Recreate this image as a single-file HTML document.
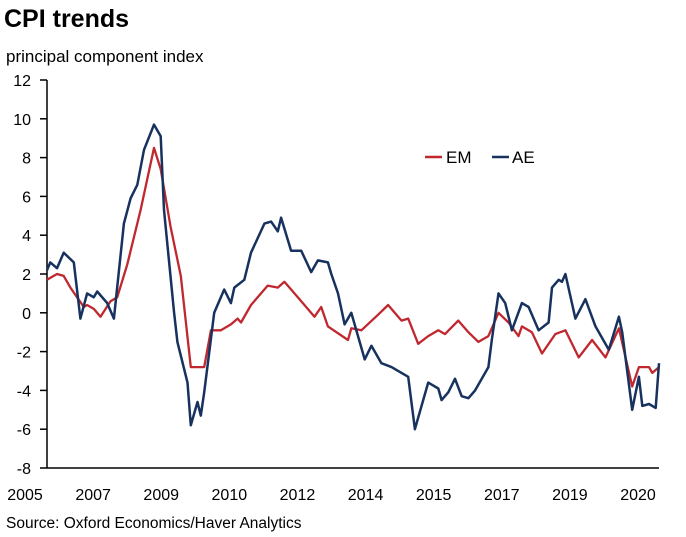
<!DOCTYPE html>
<html><head><meta charset="utf-8"><style>
html,body{margin:0;padding:0;background:#fff;}
body{width:686px;height:532px;overflow:hidden;font-family:"Liberation Sans",Arial,sans-serif;}
</style></head><body>
<svg id="chart" width="686" height="532" xmlns="http://www.w3.org/2000/svg" font-family="Liberation Sans, Arial, sans-serif">
<text x="4" y="27" font-size="25" font-weight="bold" fill="#000">CPI trends</text>
<text x="6" y="62" font-size="17" fill="#000">principal component index</text>
<g id="axes"></g>
<g id="series"></g>
<g>
<line x1="425" y1="157" x2="442" y2="157" stroke="#c0282f" stroke-width="2.5"/>
<text x="446" y="163" font-size="17">EM</text>
<line x1="492" y1="157" x2="509" y2="157" stroke="#17325e" stroke-width="2.5"/>
<text x="512" y="163" font-size="17">AE</text>
</g>
<text x="6" y="528" font-size="15.5">Source: Oxford Economics/Haver Analytics</text>
</svg>
<script>
const yTicks = [12,10,8,6,4,2,0,-2,-4,-6,-8];
const xTickLabels = ["2005","2007","2009","2010","2012","2014","2015","2017","2019","2020"];
const aeMonths = [0,1,3,5,8,10,12,14,15,18,20,23,25,27,29,32,34,35,38,39,42,43,45,46,47,50,53,55,56,59,61,65,67,69,70,73,76,79,81,84,85,87,89,91,95,97,100,103,108,110,114,117,118,120,122,124,126,128,132,133,135,137,139,142,144,147,150,151,153,154,155,158,161,164,168,171,172,175,177,178,180,182,183];
const aeValues = [2.2,2.6,2.3,3.1,2.6,-0.3,1.0,0.8,1.1,0.5,-0.3,4.6,5.9,6.6,8.4,9.7,9.1,5.3,0,-1.5,-3.6,-5.8,-4.6,-5.3,-4.1,0,1.2,0.5,1.3,1.7,3.1,4.6,4.7,4.2,4.9,3.2,3.2,2.1,2.7,2.6,2.0,1.0,-0.6,0,-2.4,-1.7,-2.6,-2.8,-3.3,-6.0,-3.6,-3.9,-4.5,-4.1,-3.4,-4.3,-4.4,-4.0,-2.8,-1.4,1.0,0.5,-0.9,0.5,0.3,-0.9,-0.5,1.3,1.7,1.6,2.0,-0.3,0.7,-0.7,-1.9,-0.2,-1.0,-5.0,-3.3,-4.8,-4.7,-4.9,-2.6];
const emMonths = [0,3,5,7,9,11,12,14,16,19,21,24,28,32,34,37,40,43,47,49,52,55,57,58,61,64,66,69,71,75,80,82,84,90,91,94,99,102,106,108,111,114,117,119,123,126,129,132,135,138,141,142,145,148,152,155,159,163,167,171,175,177,180,181,183];
const emValues = [1.7,2.0,1.9,1.3,0.8,0.3,0.4,0.2,-0.2,0.6,0.8,2.5,5.3,8.5,7.4,4.4,1.9,-2.8,-2.8,-0.9,-0.9,-0.6,-0.3,-0.5,0.4,1.0,1.4,1.3,1.6,0.8,-0.2,0.3,-0.7,-1.4,-0.8,-0.9,-0.1,0.4,-0.4,-0.3,-1.6,-1.2,-0.9,-1.1,-0.4,-1.0,-1.5,-1.2,0,-0.5,-1.2,-0.7,-1.0,-2.1,-1.1,-0.9,-2.3,-1.4,-2.3,-0.8,-3.8,-2.8,-2.8,-3.1,-2.8];

const NS='http://www.w3.org/2000/svg';
const X0=47,X1=659,Y0=468,Y1=80,MMAX=183,VMIN=-8,VMAX=12;
function xs(m){return X0+(m/MMAX)*(X1-X0);}
function ys(v){return Y0-(v-VMIN)/(VMAX-VMIN)*(Y0-Y1);}
function mk(tag,attrs,parent){const e=document.createElementNS(NS,tag);for(const k in attrs)e.setAttribute(k,attrs[k]);parent.appendChild(e);return e;}
const axes=document.getElementById('axes');
const ya=mk('line',{x1:X0,y1:ys(VMAX),x2:X0,y2:Y0,stroke:'#000','stroke-width':1.5},axes);


const xa=mk('line',{x1:X0,y1:Y0,x2:X1,y2:Y0,stroke:'#000','stroke-width':1.5},axes);


yTicks.forEach(v=>{
  const t=mk('line',{x1:X0-7,y1:ys(v),x2:X0,y2:ys(v),stroke:'#000','stroke-width':1.5},axes);
  
  
  const l=mk('text',{x:31,y:ys(v)+6,'text-anchor':'end','font-size':16},axes);
  
  
  l.textContent=String(v);
});
xTickLabels.forEach((s,i)=>{
  const cx=25+i*(638-25)/(xTickLabels.length-1);
  const l=mk('text',{x:cx,y:500,'text-anchor':'middle','font-size':16},axes);
  
  
  l.textContent=s;
});
const series=document.getElementById('series');
function path(ms,vs){return ms.map((m,i)=>(i?'L':'M')+xs(m).toFixed(1)+','+ys(vs[i]).toFixed(1)).join('');}
const em=mk('path',{d:path(emMonths,emValues),fill:'none',stroke:'#c0282f','stroke-width':2.3,'stroke-linejoin':'round'},series);


const ae=mk('path',{d:path(aeMonths,aeValues),fill:'none',stroke:'#17325e','stroke-width':2.5,'stroke-linejoin':'round'},series);


</script>
</body></html>
